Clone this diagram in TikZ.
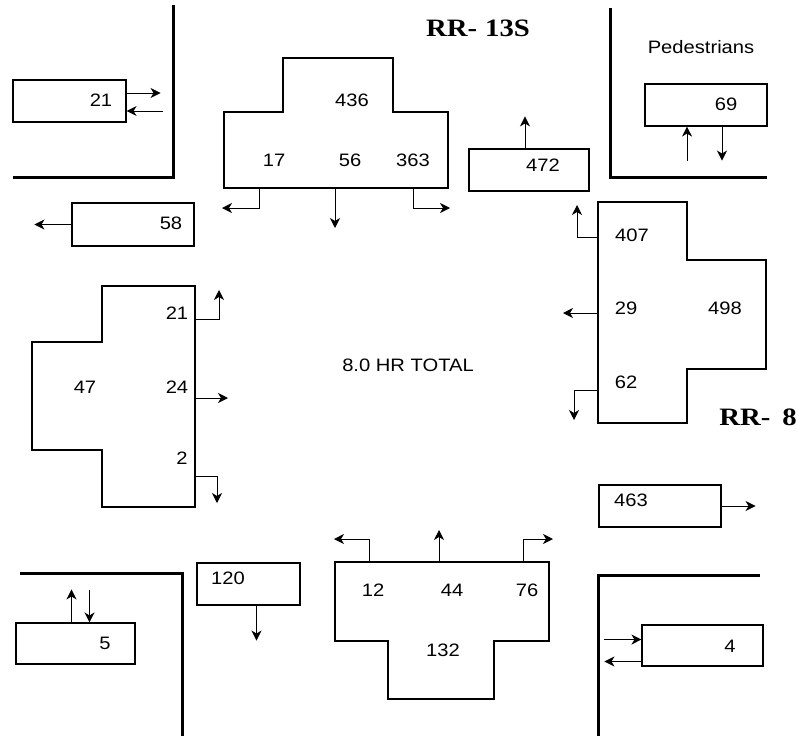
\documentclass[tikz,border=0pt]{standalone}
\usepackage{fontspec}
\setmainfont{Liberation Sans}[FakeStretch=1.12]
\newfontfamily\roadfont{Liberation Serif}[FakeStretch=1.15]
\usetikzlibrary{arrows.meta}

\begin{document}
\begin{tikzpicture}[
    x=1pt, y=-1pt,
    box/.style={
        draw,
        line width=1.1pt,
        inner sep=0pt
    },
    num/.style={font=\fontsize{18}{18}\selectfont},
    road/.style={font=\roadfont\bfseries\fontsize{25}{25}\selectfont},
    curb/.style={line width=3pt},
    flow/.style={line width=0.9pt, -{Stealth[length=10pt,width=10pt,inset=3pt]}}
]

\useasboundingbox (0,0) rectangle (797,736);

% Curbs
\draw[curb] (173,5) -- (173,177) -- (13,177);
\draw[curb] (610,8) -- (610,177) -- (767,177);
\draw[curb] (20,573) -- (182,573) -- (182,736);
\draw[curb] (760,575) -- (598,575) -- (598,736);

% Labels
\node[road] (RR13S) at (478,28) {RR-\hspace{8pt}13S};
\node[road] (RR8) at (758,417) {RR-\hspace{12pt}8};
\node[num] (Peds) at (701,47) {Pedestrians};
\node[num] (Total) at (408,365) {8.0 HR TOTAL};

% Pedestrian boxes
\node[box, minimum width=113pt, minimum height=42pt] (PNW) at (69.5,101) {};
\node[num] at (101,100) {21};
\node[box, minimum width=122pt, minimum height=42pt] (PNE) at (706,105) {};
\node[num] at (726,104) {69};
\node[box, minimum width=119pt, minimum height=41pt] (PSW) at (75.5,643.5) {};
\node[num] at (105,643) {5};
\node[box, minimum width=121pt, minimum height=41pt] (PSE) at (702.5,645.5) {};
\node[num] at (730,646) {4};

\draw[flow] ([yshift=8pt]PNW.east) -- ++(34,0);
\draw[flow] ([xshift=36pt,yshift=-10pt]PNW.east) -- ([yshift=-10pt]PNW.east);
\draw[flow] ([xshift=-19pt,yshift=-34pt]PNE.south) -- ([xshift=-19pt]PNE.south);
\draw[flow] ([xshift=16pt]PNE.south) -- ++(0,34);
\draw[flow] ([xshift=-4pt]PSW.north) -- ++(0,-33);
\draw[flow] ([xshift=14pt,yshift=32pt]PSW.north) -- ([xshift=14pt]PSW.north);
\draw[flow] ([xshift=-37pt,yshift=6pt]PSE.west) -- ([yshift=6pt]PSE.west);
\draw[flow] ([yshift=-16pt]PSE.west) -- ++(-37,0);

% Exit boxes
\node[box, minimum width=122pt, minimum height=43pt] (X58) at (133,224.5) {};
\node[num] at (171,223) {58};
\node[box, minimum width=120pt, minimum height=42pt] (X472) at (529,170) {};
\node[num] at (543,165) {472};
\node[box, minimum width=122pt, minimum height=42pt] (X463) at (660,506) {};
\node[num] at (631,500) {463};
\node[box, minimum width=103pt, minimum height=42pt] (X120) at (248.5,584) {};
\node[num] at (228,578) {120};

\draw[flow] (X58.west) -- ++(-37,0);
\draw[flow] ([xshift=-4pt]X472.north) -- ++(0,-32);
\draw[flow] (X463.east) -- ++(34,0);
\draw[flow] ([xshift=8pt]X120.south) -- ++(0,35);

% North approach
\draw[box] (283,58) -- (393,58) -- (393,112) -- (448,112) -- (448,188)
    -- (224,188) -- (224,112) -- (283,112) -- cycle;
\node[num] at (352,100) {436};
\node[num] at (274,160) {17};
\node[num] at (350,160) {56};
\node[num] at (413,160) {363};
\coordinate (N1) at (259,188);
\coordinate (N2) at (335,188);
\coordinate (N3) at (413,188);
\draw[flow] (N1) -- ++(0,20) -- ++(-37,0);
\draw[flow] (N2) -- ++(0,40);
\draw[flow] (N3) -- ++(0,20) -- ++(37,0);

% East approach
\draw[box] (598,202) -- (687,202) -- (687,260) -- (766,260) -- (766,369)
    -- (687,369) -- (687,423) -- (598,423) -- cycle;
\node[num] at (632,235) {407};
\node[num] at (626,308) {29};
\node[num] at (725,308) {498};
\node[num] at (626,382) {62};
\coordinate (E1) at (598,237);
\coordinate (E2) at (598,313);
\coordinate (E3) at (598,390);
\draw[flow] (E1) -- ++(-21,0) -- ++(0,-32);
\draw[flow] (E2) -- ++(-35,0);
\draw[flow] (E3) -- ++(-24,0) -- ++(0,30);

% West approach
\draw[box] (102,286) -- (195,286) -- (195,507) -- (102,507) -- (102,450)
    -- (32,450) -- (32,342) -- (102,342) -- cycle;
\node[num] at (177,313) {21};
\node[num] at (85,387) {47};
\node[num] at (177,387) {24};
\node[num] at (182,458) {2};
\coordinate (W1) at (195,319);
\coordinate (W2) at (195,398);
\coordinate (W3) at (195,476);
\draw[flow] (W1) -- ++(24,0) -- ++(0,-29);
\draw[flow] (W2) -- ++(33,0);
\draw[flow] (W3) -- ++(22,0) -- ++(0,27);

% South approach
\draw[box] (335,562) -- (549,562) -- (549,641) -- (494,641) -- (494,699)
    -- (388,699) -- (388,641) -- (335,641) -- cycle;
\node[num] at (373,590) {12};
\node[num] at (452,590) {44};
\node[num] at (527,590) {76};
\node[num] at (443,650) {132};
\coordinate (S1) at (369,562);
\coordinate (S2) at (439,562);
\coordinate (S3) at (523,562);
\draw[flow] (S1) -- ++(0,-23) -- ++(-35,0);
\draw[flow] (S2) -- ++(0,-32);
\draw[flow] (S3) -- ++(0,-23) -- ++(30,0);

\end{tikzpicture}
\end{document}
